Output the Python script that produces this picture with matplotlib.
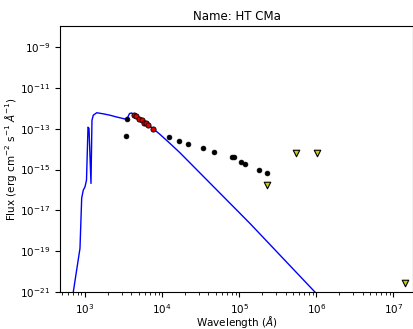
import matplotlib
matplotlib.use("Agg")
import matplotlib.pyplot as plt
import matplotlib.ticker as mticker

# Model spectrum (wavelength in Angstrom, flux in erg/cm2/s/A)
model_wave = [658, 705, 861, 906, 950, 1000, 1046, 1094, 1127, 1196, 1232, 1281,
              1419, 1712, 2107, 2523, 3020, 3475, 3780, 4035, 4230, 4865, 5650,
              6560, 7690, 9390, 12650, 17060, 138000, 961000, 1.51e6]
model_logflux = [-21.4, -21.0, -18.86, -16.40, -16.01, -15.85, -15.52, -12.93, -12.98,
                 -15.68, -12.59, -12.34, -12.22, -12.27, -12.34, -12.42, -12.49,
                 -12.55, -12.26, -12.23, -12.31, -12.44, -12.64, -12.81, -13.0,
                 -13.28, -13.72, -14.18, -17.64, -21.0, -21.76]

# Photometry detections (black)
phot_wave = [3475, 3375, 12270, 16700, 21900, 33600, 46700, 80000, 84500,
             104500, 118800, 182300, 227500]
phot_logflux = [-12.51, -13.37, -13.42, -13.60, -13.73, -13.96, -14.16, -14.37, -14.39,
                -14.63, -14.71, -15.03, -15.17]

# Fitted photometry (red)
fit_wave = [4325, 4585, 5010, 5430, 5820, 6180, 6620, 7550]
fit_logflux = [-12.31, -12.39, -12.51, -12.59, -12.72, -12.70, -12.80, -12.995]

# Upper limits (triangles)
ul_wave = [546000, 1.01e6, 227500, 1.41e7]
ul_logflux = [-14.17, -14.17, -15.77, -20.57]

model_flux = [10 ** v for v in model_logflux]
phot_flux = [10 ** v for v in phot_logflux]
fit_flux = [10 ** v for v in fit_logflux]
ul_flux = [10 ** v for v in ul_logflux]

fig = plt.figure(figsize=(4.14, 3.29), dpi=100)
ax = fig.add_axes([60 / 414, 37 / 329, 353 / 414, 266 / 329])

ax.plot(model_wave, model_flux, color='blue', lw=1.0, zorder=2)
ax.scatter(phot_wave, phot_flux, s=12, c='black', edgecolors='black', linewidths=0.5, zorder=3)
ax.scatter(fit_wave, fit_flux, s=14, c='#dd0000', edgecolors='black', linewidths=0.6, zorder=4)
ax.scatter(ul_wave, ul_flux, s=22, marker='v', c='#cccc00', edgecolors='black', linewidths=0.8, zorder=4)

ax.set_xscale('log')
ax.set_yscale('log')
ax.set_xlim(474, 1.8e7)
ax.set_ylim(1e-21, 1.07e-8)
ax.yaxis.set_major_locator(mticker.FixedLocator([1e-21, 1e-19, 1e-17, 1e-15, 1e-13, 1e-11, 1e-9]))
ax.yaxis.set_minor_locator(mticker.NullLocator())
ax.tick_params(labelsize=7.5)

ax.set_xlabel(r'Wavelength ($\AA$)', fontsize=7.5)
ax.xaxis.set_label_coords(0.5, -0.084)
ax.set_ylabel(r'Flux (erg cm$^{-2}$ s$^{-1}$ $\AA^{-1}$)', fontsize=7.5, labelpad=1)
ax.set_title('Name: HT CMa', fontsize=8.5, pad=4)

fig.savefig('out.png', dpi=100)
